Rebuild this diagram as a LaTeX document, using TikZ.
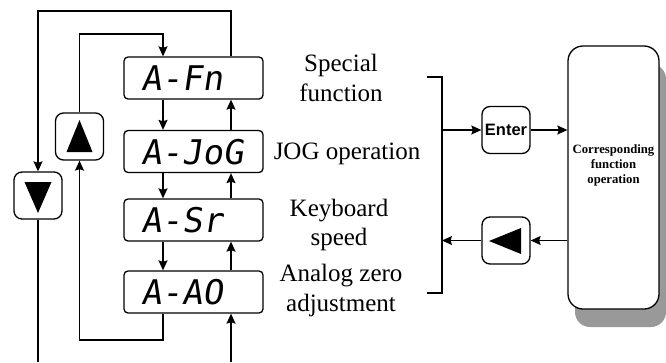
\documentclass[tikz,border=0pt]{standalone}
\usepackage{fontspec}
\setmainfont{Liberation Serif}
\newfontfamily\segfont{DejaVu Sans Mono}[FakeSlant=0.15]
\newfontfamily\btnfont{Liberation Sans}
\usetikzlibrary{arrows.meta,shadows}
\begin{document}
\begin{tikzpicture}[x=1pt,y=-1pt,line width=1.3pt,
  arr/.style={-{Stealth[length=10pt,width=9pt,inset=1.5pt]}},
  disp/.style={draw, rounded corners=4pt, minimum width=139pt, minimum height=42pt,
    text width=105pt, inner xsep=17pt, inner ysep=0pt, text height=25pt, text depth=0pt,
    align=left, font=\segfont\fontsize{34}{34}\selectfont},
  btn/.style={draw, rounded corners=8pt, minimum width=48pt, minimum height=47pt, inner sep=0pt},
  lbl/.style={anchor=base, font=\fontsize{25}{29.5}\selectfont},
  tri/.style={fill=black, draw=none}]
\useasboundingbox (0,0) rectangle (666,362);
\fill[white] (0,0) rectangle (666,362);
% displays
\node[disp] (fn)  at (193.5,78)    {A-Fn};
\node[disp] (jog) at (193.5,151.5) {A-JoG};
\node[disp] (sr)  at (193.5,220)   {A-Sr};
\node[disp] (ao)  at (193.5,292)   {A-AO};
% buttons
\node[btn] (dn) at (38,195.5) {};
\node[btn] (up) at (79.5,136.5) {};
\node[btn, font=\btnfont\bfseries\fontsize{16.5}{18}\selectfont] (ent) at (506,130) {Enter};
\node[btn] (lb) at (506,240.5) {};
\fill[tri] ([shift={(-13.5,-13.5)}]dn.center) -- ([shift={(13.5,-13.5)}]dn.center) -- ([shift={(0,17.5)}]dn.center) -- cycle;
\fill[tri] ([shift={(0,-16.5)}]up.center) -- ([shift={(13,15.5)}]up.center) -- ([shift={(-13,15.5)}]up.center) -- cycle;
\fill[tri] ([shift={(-17,0.5)}]lb.center) -- ([shift={(15,-12.5)}]lb.center) -- ([shift={(15,13.5)}]lb.center) -- cycle;
% right box
\node[draw, fill=white, rounded corners=15pt, minimum width=91pt, minimum height=263pt,
  drop shadow={opacity=1, fill=black!40, shadow xshift=7pt, shadow yshift=-18pt}] (cfo) at (613.5,177.5) {};
\node[anchor=base, font=\bfseries\fontsize{12.7}{15}\selectfont] (cfot) at (613.5,153)
  {\begin{tabular}[t]{@{}c@{}}Corresponding\\function\\operation\end{tabular}};
% labels
\node[lbl] (l1) at (341,71.7) {\begin{tabular}[t]{@{}c@{}}Special\\function\end{tabular}};
\node[lbl] (l2) at (347,159) {JOG operation};
\node[lbl] (l3) at (339,216) {\begin{tabular}[t]{@{}c@{}}Keyboard\\speed\end{tabular}};
\node[lbl] (l4) at (341,281.7) {\begin{tabular}[t]{@{}c@{}}Analog zero\\adjustment\end{tabular}};
% helper coordinates
\coordinate (ux) at (231,0);
\coordinate (dx) at (163,0);
\coordinate (topO) at (38,11);
\coordinate (tI) at (163,34);
\coordinate (bI) at (79.5,340);
\coordinate (botL) at (38,362);
\coordinate (botR) at (231,362);
\coordinate (bT) at (427,77);
\coordinate (bB) at (427,293);
\coordinate (bx) at (442,0);
% loops
\draw[arr] (fn.north -| ux) |- (topO) -- (dn.north);
\draw (dn.south) -- (botL);
\draw[arr] (up.north) |- (tI) -- (fn.north -| tI);
\draw[arr] (ao.south -| tI) |- (bI) -- (up.south);
\draw[arr] (botR) -- (ao.south -| botR);
% down arrows
\draw[arr] (fn.south -| dx) -- (jog.north -| dx);
\draw[arr] (jog.south -| dx) -- (sr.north -| dx);
\draw[arr] (sr.south -| dx) -- (ao.north -| dx);
% up arrows
\draw[arr] (jog.north -| ux) -- (fn.south -| ux);
\draw[arr] (sr.north -| ux) -- (jog.south -| ux);
\draw[arr] (ao.north -| ux) -- (sr.south -| ux);
% bracket and right side
\draw (bT) -- (bT -| bx) -- (bB -| bx) -- (bB);
\draw[arr] (ent.west -| bx) -- (ent.west);
\draw[arr] (ent.east) -- (ent.east -| cfo.west);
\draw[arr] (lb.east -| cfo.west) -- (lb.east);
\draw[arr] (lb.west) -- (lb.west -| bx);
\end{tikzpicture}
\end{document}
